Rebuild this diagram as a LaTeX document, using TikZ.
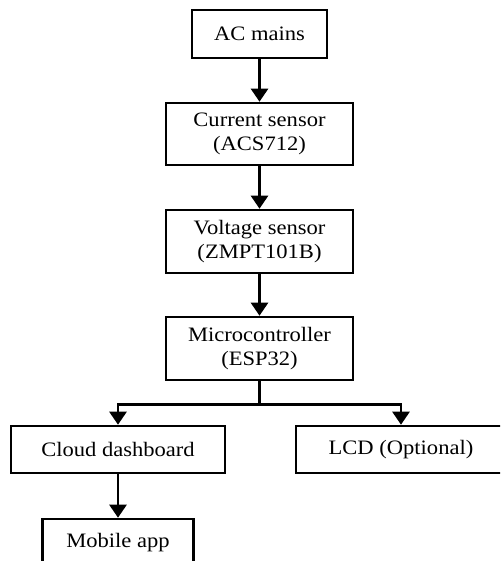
\documentclass[tikz,border=0pt]{standalone}
\usepackage{fontspec}
\setmainfont{Liberation Serif}[FakeStretch=1.1]
\usetikzlibrary{arrows.meta}
\begin{document}
\begin{tikzpicture}[x=1pt,y=-1pt,
  box/.style={draw=black,line width=2.6pt,inner sep=0pt,align=center,
    font=\fontsize{20.5}{24}\selectfont},
  arr/.style={line width=2.6pt,-{Triangle[width=17pt,length=13pt]}},
  ln/.style={line width=2.6pt}]
\useasboundingbox (0,0) rectangle (500,561);
\clip (0,0) rectangle (500,561);
\fill[white] (0,0) rectangle (500,561);
\node[box,minimum width=135pt,minimum height=48pt] (ac) at (259.5,34) {AC mains};
\node[box,minimum width=187pt,minimum height=62pt] (cur) at (259.5,134) {Current sensor\\(ACS712)};
\node[box,minimum width=187pt,minimum height=63pt] (vol) at (259.5,241.5) {Voltage sensor\\(ZMPT101B)};
\node[box,minimum width=187pt,minimum height=63pt] (mcu) at (259.5,348.5) {Microcontroller\\(ESP32)};
\node[box,minimum width=214pt,minimum height=47pt] (cloud) at (118,449.5) {Cloud dashboard};
\node[box,minimum width=210pt,minimum height=47pt] (lcd) at (401,449.5) {LCD (Optional)};
\node[box,minimum width=151pt,minimum height=48pt] (mob) at (118,543) {Mobile app};
\draw[arr] (ac) -- (cur);
\draw[arr] (cur) -- (vol);
\draw[arr] (vol) -- (mcu);
\draw[ln] (mcu.south) -- ++(0,23) coordinate (j);
\draw[arr] (j) -| (cloud.north);
\draw[arr] (j) -| (lcd.north);
\draw[arr] (cloud) -- (mob);
\end{tikzpicture}
\end{document}
